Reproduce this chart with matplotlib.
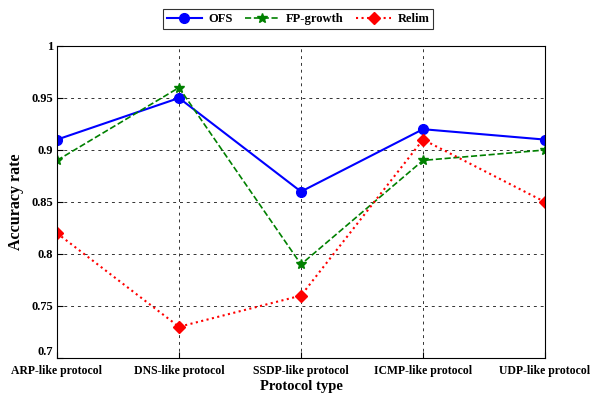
import matplotlib
matplotlib.use("Agg")
import matplotlib.pyplot as plt

categories = ["ARP-like protocol", "DNS-like protocol", "SSDP-like protocol",
              "ICMP-like protocol", "UDP-like protocol"]
ofs = [0.91, 0.95, 0.86, 0.92, 0.91]
fp_growth = [0.89, 0.96, 0.79, 0.89, 0.90]
relim = [0.82, 0.73, 0.76, 0.91, 0.85]
yticks = [0.7, 0.75, 0.8, 0.85, 0.9, 0.95, 1]
ytick_labels = ["0.7", "0.75", "0.8", "0.85", "0.9", "0.95", "1"]

plt.rcParams['font.family'] = ['Liberation Serif', 'DejaVu Serif']
plt.rcParams['font.weight'] = 'bold'

fig = plt.figure(figsize=(5.93, 3.99), dpi=100)
ax = fig.add_axes([57/593, 1-358/399, (545-57)/593, (358-46)/399])

x = list(range(len(categories)))
ax.plot(x, ofs, color='blue', linestyle='-', marker='o', markersize=7, linewidth=1.5, label='OFS')
ax.plot(x, fp_growth, color='green', linestyle='--', marker='*', markersize=7, linewidth=1.2, label='FP-growth')
ax.plot(x, relim, color='red', linestyle=':', marker='D', markersize=6, linewidth=1.5, label='Relim')

ax.set_xlim(0, 4)
ax.set_ylim(0.7, 1.0)
ax.set_xticks(x)
ax.set_xticklabels(categories, fontsize=8.5, fontweight='bold')
ax.set_yticks(yticks)
ax.set_yticklabels(ytick_labels, fontsize=9, fontweight='bold')
ax.get_yticklabels()[0].set_verticalalignment('bottom')
ax.grid(True, color='black', linestyle=(0, (3, 4)), linewidth=0.7, alpha=0.8)
ax.tick_params(direction='in', length=4, width=0.8)
ax.tick_params(axis='x', pad=5)
ax.tick_params(axis='y', pad=3)
for s in ax.spines.values():
    s.set_linewidth(0.8)
ax.set_xlabel("Protocol type", fontsize=10.5, fontweight='bold', labelpad=2)
ax.set_ylabel("Accuracy rate", fontsize=11.5, fontweight='bold', labelpad=5)

leg = fig.legend(loc='upper center', bbox_to_anchor=(298/593, 1-3/399), ncol=3,
                 frameon=True, fancybox=False, edgecolor='black',
                 handlelength=2.8, columnspacing=1.0, handletextpad=0.5,
                 borderpad=0.3, prop={'weight': 'bold', 'size': 9})
leg.get_frame().set_linewidth(0.8)

fig.savefig("out.png", dpi=100)
